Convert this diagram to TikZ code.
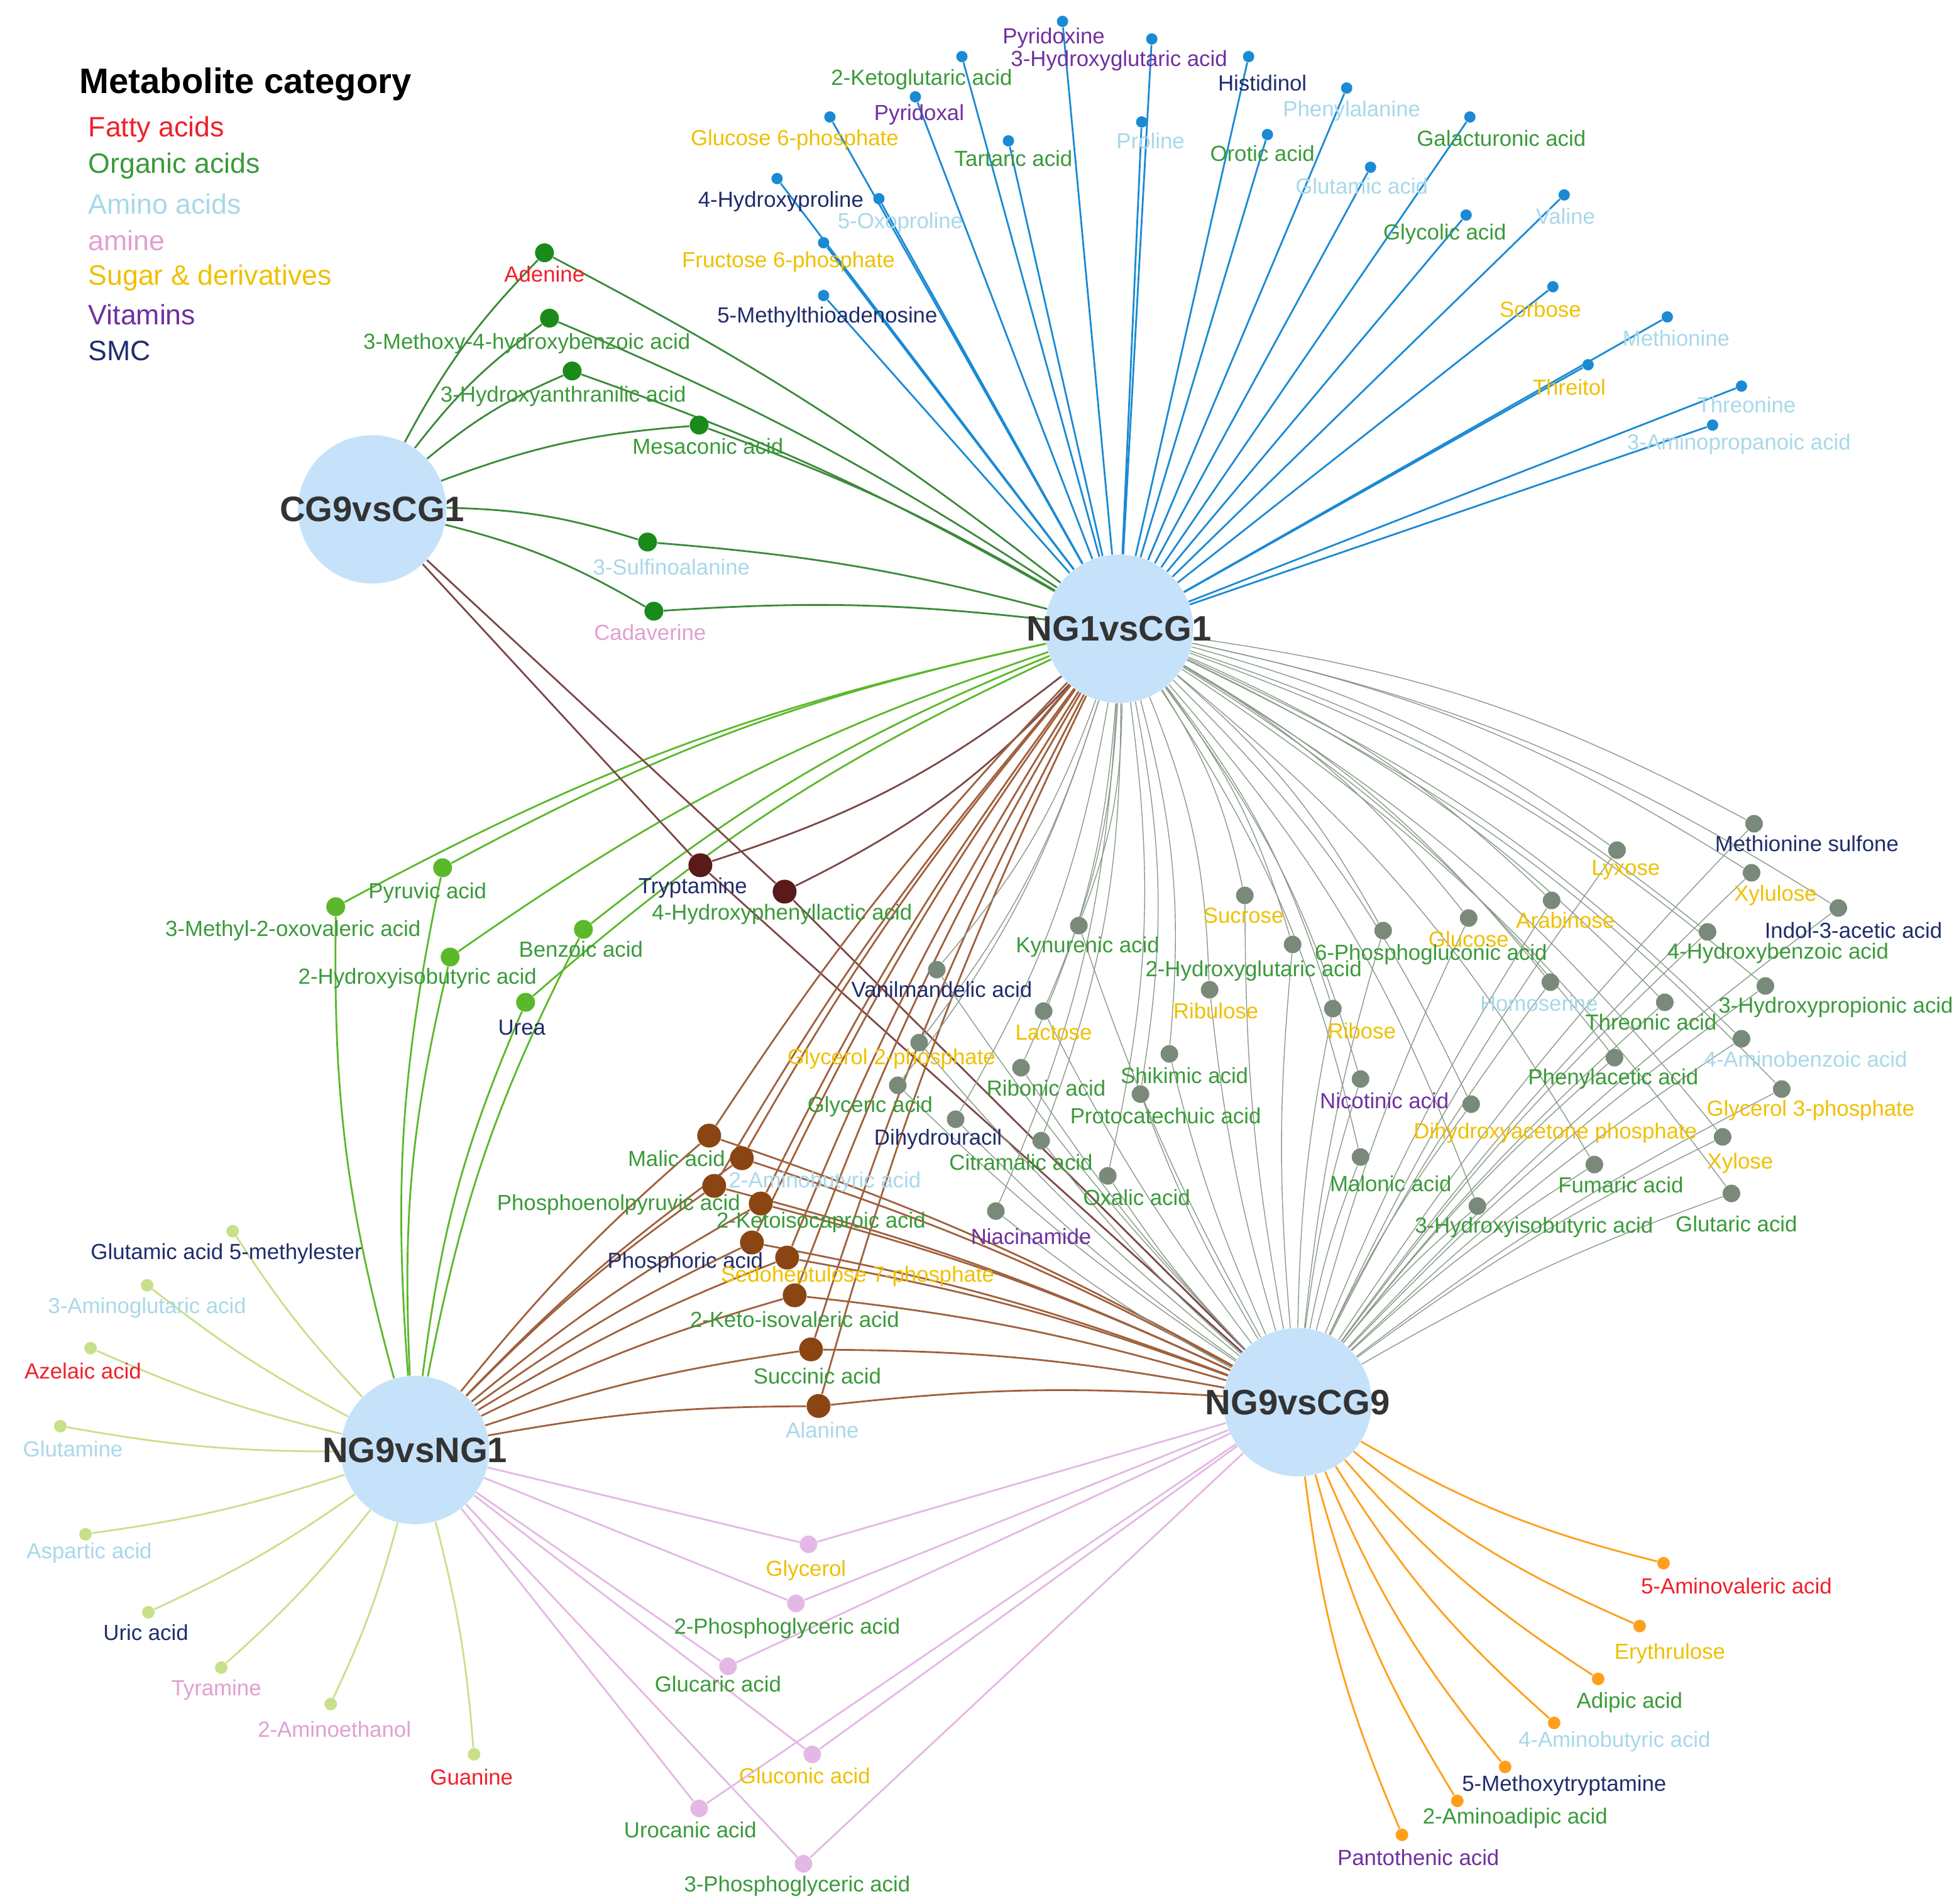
\documentclass[tikz,border=0pt]{standalone}
\usepackage{fontspec}
\setmainfont{Liberation Sans}
\usetikzlibrary{backgrounds}
\definecolor{fatty}{HTML}{F0202A}
\definecolor{organic}{HTML}{3A9A3A}
\definecolor{amino}{HTML}{A8D8EA}
\definecolor{amine}{HTML}{E0A0D0}
\definecolor{sugar}{HTML}{F0C000}
\definecolor{vitam}{HTML}{7030A0}
\definecolor{smc}{HTML}{1F2D6B}
\definecolor{hubblue}{HTML}{C6E2FA}
\definecolor{topblue}{HTML}{1A8AD4}
\definecolor{dgreen}{HTML}{1A8A1A}
\definecolor{egreen}{HTML}{3A8A3A}
\definecolor{lgreen}{HTML}{5AB82A}
\definecolor{dbrown}{HTML}{5A1A1A}
\definecolor{brown}{HTML}{8B4513}
\definecolor{ebrown}{HTML}{A0603D}
\definecolor{grey}{HTML}{7A8A7A}
\definecolor{egrey}{HTML}{8A9A8A}
\definecolor{pale}{HTML}{C8E08A}
\definecolor{pink}{HTML}{E4B8E4}
\definecolor{orange}{HTML}{FF9F1A}
\tikzset{
  hub/.style={circle, fill=hubblue, minimum size=2.36cm, inner sep=0pt,
    label={[font=\fontsize{16}{18}\selectfont\bfseries, text=black!80]center:#1}},
  dot/.style={circle, inner sep=0pt, minimum size=#1},
  lab/.style={inner sep=1pt, font=\fontsize{9.9}{11}\selectfont},
  leg/.style={anchor=west, inner sep=0pt, font=\fontsize{12.7}{14}\selectfont}
}
\begin{document}
\begin{tikzpicture}[x=0.02cm, y=-0.02cm]
	\useasboundingbox (0,0) rectangle (1558,1514);
	% legend
	\node (legtitle) [leg, font=\fontsize{16}{18}\selectfont\bfseries] at (63,67) {Metabolite category};
	\node (leg1) [leg, text=fatty] at (70,103) {Fatty acids};
	\node (leg2) [leg, text=organic] at (70,132) {Organic acids};
	\node (leg3) [leg, text=amino] at (70,162) {Amino acids};
	\node (leg4) [leg, text=amine] at (70,191) {amine};
	\node (leg5) [leg, text=sugar] at (70,221) {Sugar \& derivatives};
	\node (leg6) [leg, text=vitam] at (70,250) {Vitamins};
	\node (leg7) [leg, text=smc] at (70,279) {SMC};
	% hubs
	\node (CG) [hub=CG9vsCG1] at (296,405) {};
	\node (NGCG) [hub=NG1vsCG1] at (890,500) {};
	\node (NGNG) [hub=NG9vsNG1] at (330,1153) {};
	\node (NG9) [hub=NG9vsCG9] at (1032,1115) {};
	% NG1vsCG1 only
	\foreach \n/\x/\y/\lx/\ly/\c/\t in {
		a1/845/17/838/30/vitam/Pyridoxine, a2/916/31/890/48/vitam/3-Hydroxyglutaric acid,
		a3/993/45/1004/66/smc/Histidinol, a4/765/45/733/63/organic/2-Ketoglutaric acid,
		a5/728/77/731/91/vitam/Pyridoxal, a6/1071/70/1075/88/amino/Phenylalanine,
		a7/660/93/632/111/sugar/Glucose 6-phosphate, a8/802/112/806/126/organic/Tartaric acid,
		a9/908/97/915/112/amino/Proline, a10/1008/107/1004/122/organic/Orotic acid,
		a11/1169/93/1194/110/organic/Galacturonic acid, a12/618/142/621/160/smc/4-Hydroxyproline,
		a13/699/158/716/177/amino/5-Oxoproline, a14/1090/133/1083/148/amino/Glutamic acid,
		a15/1166/171/1149/186/organic/Glycolic acid, a16/1244/155/1245/172/amino/Valine,
		a17/655/193/627/208/sugar/Fructose 6-phosphate, a18/655/235/658/252/smc/5-Methylthioadenosine,
		a19/1235/228/1225/246/sugar/Sorbose, a20/1326/252/1333/269/amino/Methionine,
		a21/1263/290/1248/308/sugar/Threitol, a22/1385/307/1389/322/amino/Threonine,
		a23/1362/338/1383/353/amino/3-Aminopropanoic acid}{
		\node (\n) [dot=0.18cm, fill=topblue] at (\x,\y) {};
		\node (\n-l) [lab, text=\c] at (\lx,\ly) {\t};
		\begin{scope}[on background layer]
			\draw[topblue, thick] (NGCG) -- (\n);
		\end{scope}
	}
	% CG9vsCG1 and NG1vsCG1
	\foreach \n/\x/\y/\lx/\ly/\c/\t in {
		b1/433/201/433/218/fatty/Adenine, b2/437/253/419/273/organic/3-Methoxy-4-hydroxybenzoic acid,
		b3/455/295/448/315/organic/3-Hydroxyanthranilic acid, b4/556/338/563/355/organic/Mesaconic acid,
		b5/515/431/534/451/amino/3-Sulfinoalanine, b6/520/486/517/503/amine/Cadaverine}{
		\node (\n) [dot=0.3cm, fill=dgreen] at (\x,\y) {};
		\node (\n-l) [lab, text=\c] at (\lx,\ly) {\t};
		\begin{scope}[on background layer]
			\draw[egreen, thick] (CG) to[bend left=8] (\n);
			\draw[egreen, thick] (\n) to[bend left=5] (NGCG);
		\end{scope}
	}
	% NG9vsNG1 and NG1vsCG1
	\foreach \n/\x/\y/\lx/\ly/\c/\t in {
		c1/352/690/340/710/organic/Pyruvic acid, c2/267/721/233/740/organic/3-Methyl-2-oxovaleric acid,
		c3/358/761/332/778/organic/2-Hydroxyisobutyric acid, c4/464/739/462/755/organic/Benzoic acid,
		c5/418/797/415/817/smc/Urea}{
		\node (\n) [dot=0.3cm, fill=lgreen] at (\x,\y) {};
		\node (\n-l) [lab, text=\c] at (\lx,\ly) {\t};
		\begin{scope}[on background layer]
			\draw[lgreen, thick] (NGNG) to[bend left=8] (\n);
			\draw[lgreen, thick] (\n) to[bend left=8] (NGCG);
		\end{scope}
	}
	% CG9vsCG1, NG1vsCG1 and NG9vsCG9
	\foreach \n/\x/\y/\lx/\ly/\c/\t in {
		d1/557/688/551/706/smc/Tryptamine, d2/624/709/622/727/organic/4-Hydroxyphenyllactic acid}{
		\node (\n) [dot=0.38cm, fill=dbrown] at (\x,\y) {};
		\node (\n-l) [lab, text=\c] at (\lx,\ly) {\t};
		\begin{scope}[on background layer]
			\draw[dbrown!80, thick] (CG) -- (\n) -- (NG9);
			\draw[dbrown!80, thick] (\n) to[bend right=10] (NGCG);
		\end{scope}
	}
	% NG9vsNG1, NG1vsCG1 and NG9vsCG9
	\foreach \n/\x/\y/\lx/\ly/\c/\t in {
		e1/564/903/538/921/organic/Malic acid, e2/590/921/656/940/amino/2-Aminobutyric acid,
		e3/568/943/492/958/organic/Phosphoenolpyruvic acid, e4/605/957/653/972/organic/2-Ketoisocaproic acid,
		e5/598/988/545/1004/smc/Phosphoric acid, e6/626/1000/682/1015/sugar/Sedoheptulose 7-phosphate,
		e7/632/1030/632/1049/organic/2-Keto-isovaleric acid, e8/645/1073/650/1094/organic/Succinic acid,
		e9/651/1118/654/1137/amino/Alanine}{
		\node (\n) [dot=0.38cm, fill=brown] at (\x,\y) {};
		\node (\n-l) [lab, text=\c] at (\lx,\ly) {\t};
		\begin{scope}[on background layer]
			\draw[ebrown, thick] (NGNG) to[bend left=5] (\n);
			\draw[ebrown, thick] (\n) to[bend left=5] (NGCG);
			\draw[ebrown, thick] (\n) to[bend left=5] (NG9);
		\end{scope}
	}
	% NG1vsCG1 and NG9vsCG9
	\foreach \n/\x/\y/\lx/\ly/\c/\t in {
		f1/1395/655/1437/671/smc/Methionine sulfone, f2/1286/676/1293/692/sugar/Lyxose,
		f3/1393/694/1412/712/sugar/Xylulose, f4/1462/722/1474/740/smc/Indol-3-acetic acid,
		f5/990/712/989/728/sugar/Sucrose, f6/1234/716/1245/732/sugar/Arabinose,
		f7/858/736/865/753/organic/Kynurenic acid, f8/1168/730/1168/747/sugar/Glucose,
		f9/1100/740/1138/759/organic/6-Phosphogluconic acid, f10/1028/751/997/772/organic/2-Hydroxyglutaric acid,
		f11/1358/741/1414/758/organic/4-Hydroxybenzoic acid, f12/745/771/749/787/smc/Vanilmandelic acid,
		f13/1233/781/1224/798/amino/Homoserine, f14/962/787/967/804/sugar/Ribulose,
		f15/1404/784/1460/801/organic/3-Hydroxypropionic acid, f16/1324/797/1313/813/organic/Threonic acid,
		f17/1060/802/1083/820/sugar/Ribose, f18/830/804/838/821/sugar/Lactose,
		f19/1385/826/1436/842/amino/4-Aminobenzoic acid, f20/731/829/709/842/sugar/Glycerol 2-phosphate,
		f21/930/838/942/855/organic/Shikimic acid, f22/1284/841/1283/858/organic/Phenylacetic acid,
		f23/812/849/832/865/organic/Ribonic acid, f24/714/863/692/880/organic/Glyceric acid,
		f25/1082/858/1101/875/vitam/Nicotinic acid, f26/907/870/927/887/organic/Protocatechuic acid,
		f27/1417/866/1440/883/sugar/Glycerol 3-phosphate, f28/760/890/746/906/smc/Dihydrouracil,
		f29/1170/878/1237/901/sugar/Dihydroxyacetone phosphate, f30/1370/904/1384/925/sugar/Xylose,
		f31/828/907/812/924/organic/Citramalic acid, f32/881/935/904/952/organic/Oxalic acid,
		f33/1082/920/1106/941/organic/Malonic acid, f34/1268/926/1289/942/organic/Fumaric acid,
		f35/1377/949/1381/973/organic/Glutaric acid, f36/1175/959/1220/976/organic/3-Hydroxyisobutyric acid,
		f37/792/963/820/983/vitam/Niacinamide}{
		\node (\n) [dot=0.28cm, fill=grey] at (\x,\y) {};
		\node (\n-l) [lab, text=\c] at (\lx,\ly) {\t};
		\begin{scope}[on background layer]
			\draw[egrey] (NGCG) to[bend left=10] (\n);
			\draw[egrey] (\n) to[bend right=5] (NG9);
		\end{scope}
	}
	% NG9vsNG1 only
	\foreach \n/\x/\y/\lx/\ly/\c/\t in {
		g1/185/979/180/997/smc/Glutamic acid 5-methylester, g2/117/1022/117/1040/amino/3-Aminoglutaric acid,
		g3/72/1072/66/1090/fatty/Azelaic acid, g4/48/1134/58/1152/amino/Glutamine,
		g5/68/1220/71/1235/amino/Aspartic acid, g6/118/1282/116/1298/smc/Uric acid,
		g7/176/1326/172/1344/amine/Tyramine, g8/263/1355/266/1375/amine/2-Aminoethanol,
		g9/377/1395/375/1413/fatty/Guanine}{
		\node (\n) [dot=0.2cm, fill=pale] at (\x,\y) {};
		\node (\n-l) [lab, text=\c] at (\lx,\ly) {\t};
		\begin{scope}[on background layer]
			\draw[pale, thick] (NGNG) to[bend left=5] (\n);
		\end{scope}
	}
	% NG9vsNG1 and NG9vsCG9
	\foreach \n/\x/\y/\lx/\ly/\c/\t in {
		h1/643/1228/641/1249/sugar/Glycerol, h2/633/1275/626/1295/organic/2-Phosphoglyceric acid,
		h3/579/1325/571/1339/organic/Glucaric acid, h4/646/1395/640/1412/sugar/Gluconic acid,
		h5/556/1438/549/1455/organic/Urocanic acid, h6/639/1482/634/1500/organic/3-Phosphoglyceric acid}{
		\node (\n) [dot=0.28cm, fill=pink] at (\x,\y) {};
		\node (\n-l) [lab, text=\c] at (\lx,\ly) {\t};
		\begin{scope}[on background layer]
			\draw[pink, thick] (NGNG) -- (\n) -- (NG9);
		\end{scope}
	}
	% NG9vsCG9 only
	\foreach \n/\x/\y/\lx/\ly/\c/\t in {
		k1/1323/1243/1381/1261/fatty/5-Aminovaleric acid, k2/1304/1293/1328/1315/sugar/Erythrulose,
		k3/1271/1335/1296/1354/organic/Adipic acid, k4/1236/1370/1284/1385/amino/4-Aminobutyric acid,
		k5/1197/1405/1244/1420/smc/5-Methoxytryptamine, k6/1159/1432/1205/1446/organic/2-Aminoadipic acid,
		k7/1115/1459/1128/1477/vitam/Pantothenic acid}{
		\node (\n) [dot=0.2cm, fill=orange] at (\x,\y) {};
		\node (\n-l) [lab, text=\c] at (\lx,\ly) {\t};
		\begin{scope}[on background layer]
			\draw[orange, thick] (NG9) to[bend right=8] (\n);
		\end{scope}
	}
\end{tikzpicture}
\end{document}
